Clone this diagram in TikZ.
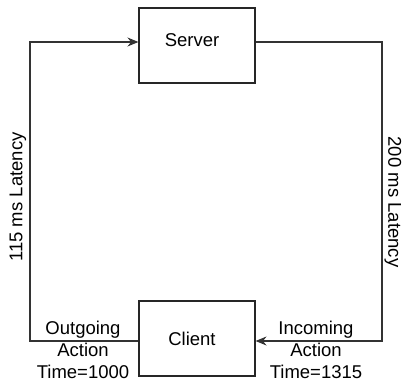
\documentclass[tikz,border=0pt]{standalone}
\usepackage{fontspec}
\setmainfont{Liberation Sans}
\usetikzlibrary{arrows.meta}
\begin{document}
\begin{tikzpicture}[x=1pt,y=-1pt,
  box/.style={draw=black!85,line width=1.1pt,minimum width=116pt,minimum height=75pt,inner sep=0pt},
  lbl/.style={font=\fontsize{18.5}{22}\selectfont,inner sep=0pt,align=center},
  conn/.style={draw=black!80,line width=1.1pt,-{Stealth[length=11pt,width=9pt]}}]
\useasboundingbox (0,0) rectangle (404,383);
\node[box] (server) at (197,45.5) {};
\node[lbl] at (192,40) {Server};
\node[box] (client) at (197,338.5) {};
\node[lbl] at (192,339) {Client};
\coordinate (lb) at (30,341);
\coordinate (lt) at (30,42);
\coordinate (rt) at (382,42);
\coordinate (rb) at (382,341);
\draw[conn] (client.west |- lb) -- (lb) -- (lt) -- (server.west |- lt);
\draw[conn] (server.east |- rt) -- (rt) -- (rb) -- (client.east |- rb);
\node[lbl,rotate=90] (lat1) at (18,197) {115 ms Latency};
\node[lbl,rotate=-90] (lat2) at (393,202) {200 ms Latency};
\node[lbl] (out) at (83,350) {Outgoing\\Action\\Time=1000};
\node[lbl] (inc) at (316,350) {Incoming\\Action\\Time=1315};
\end{tikzpicture}
\end{document}
